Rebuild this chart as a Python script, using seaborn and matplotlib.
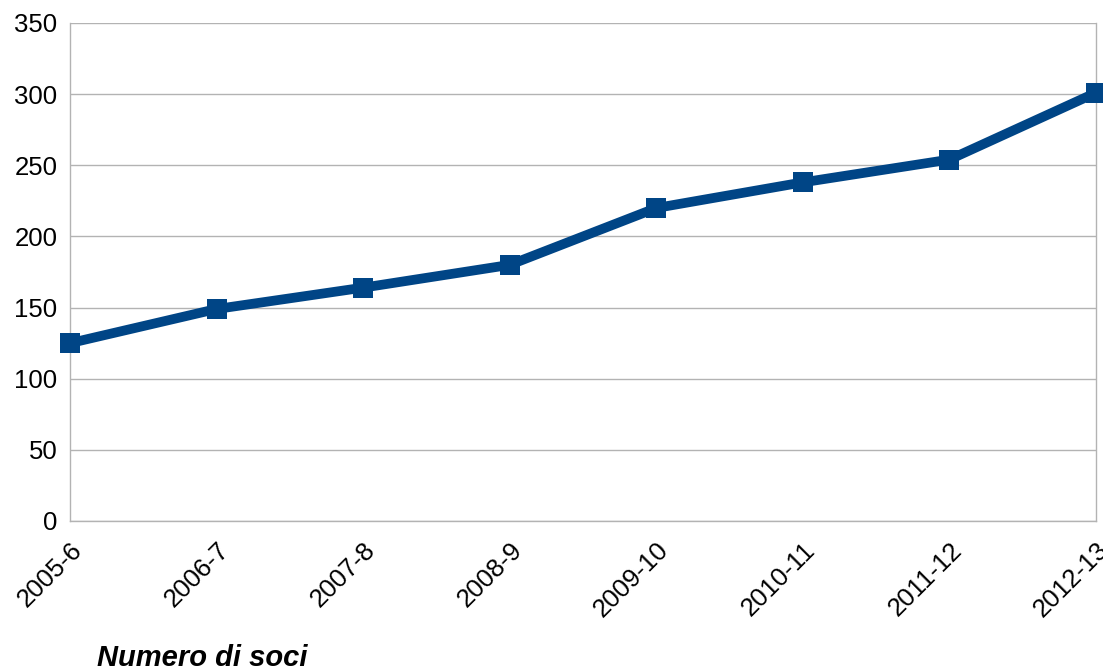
import matplotlib
matplotlib.use("Agg")
import matplotlib.pyplot as plt
import seaborn as sns
import pandas as pd

seasons = ["2005-6", "2006-7", "2007-8", "2008-9", "2009-10", "2010-11", "2011-12", "2012-13"]
members = [125, 149, 164, 180, 220, 238, 254, 301]
y_ticks = [0, 50, 100, 150, 200, 250, 300, 350]

sns.set_theme(style="white")
plt.rcParams["font.family"] = ["Liberation Sans", "DejaVu Sans"]

df = pd.DataFrame({"stagione": seasons, "soci": members})

fig = plt.figure(figsize=(11.03, 6.70), dpi=100)
ax = fig.add_axes([70 / 1103, 149 / 670, 1026 / 1103, 498 / 670])

grid_col = "#b3b3b3"
sns.lineplot(data=df, x="stagione", y="soci", ax=ax, color="#004586",
             linewidth=7, marker="s", markersize=15, markeredgewidth=0,
             clip_on=False, zorder=5, sort=False)

ax.set_xlim(0, len(seasons) - 1)
ax.set_ylim(0, 350)
ax.set_yticks(y_ticks)
ax.set_yticklabels([str(v) for v in y_ticks], fontsize=18.5, color="black")
ax.set_xticks(range(len(seasons)))
ax.set_xticklabels(seasons, fontsize=18.5, rotation=45, ha="right",
                   rotation_mode="anchor", color="black")
ax.yaxis.grid(True, color=grid_col, linewidth=1)
ax.xaxis.grid(False)
ax.tick_params(axis="both", which="both", length=7, width=1, color=grid_col,
               pad=5)
ax.tick_params(axis="y", pad=2)
for side in ("left", "right", "bottom"):
    ax.spines[side].set_color(grid_col)
    ax.spines[side].set_linewidth(1)
ax.spines["top"].set_visible(False)
ax.set_xlabel("")
ax.set_ylabel("")

fig.text(97 / 1103, 1 - 666 / 670, "Numero di soci", fontsize=21,
         fontweight="bold", fontstyle="italic", va="baseline", ha="left",
         color="black")

fig.savefig("out.png", dpi=100)
